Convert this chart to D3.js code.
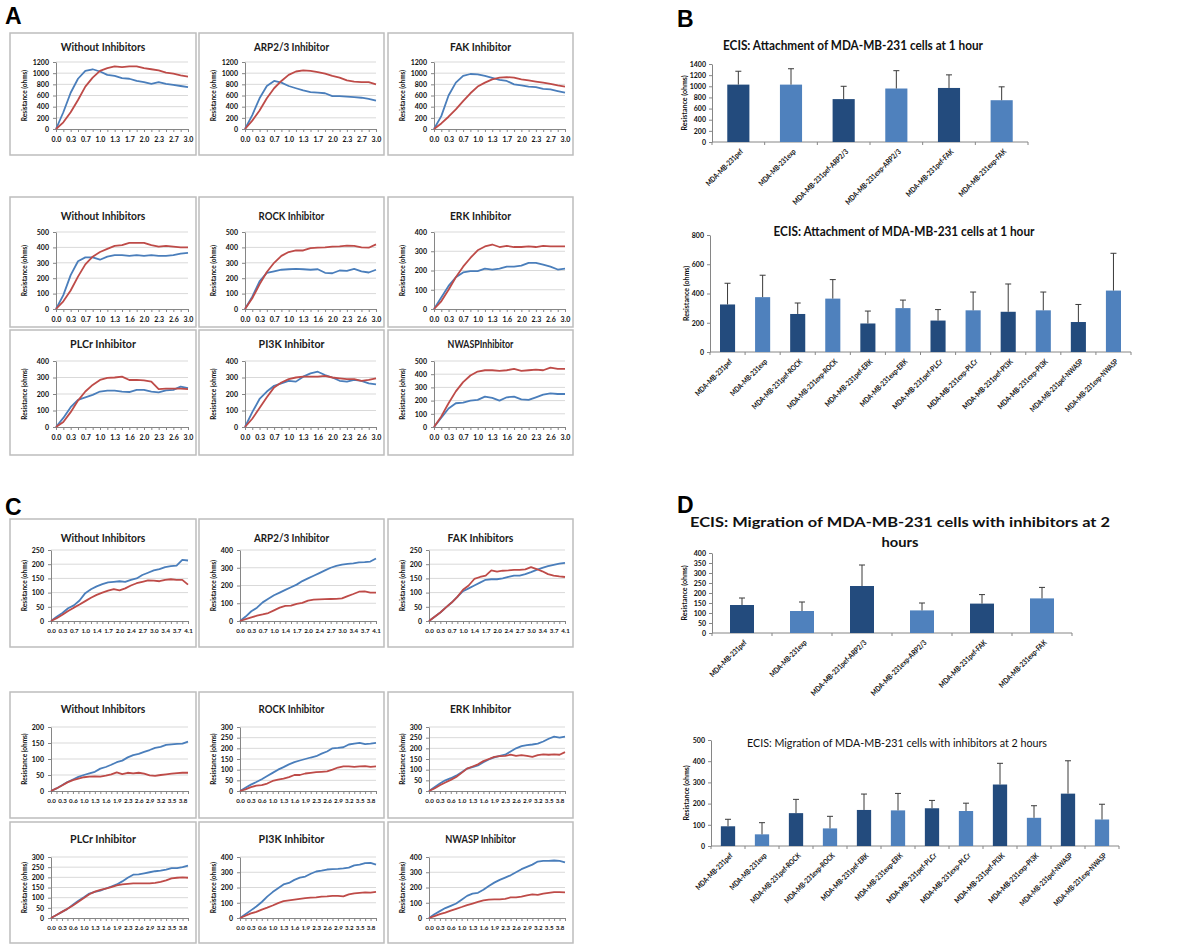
<!DOCTYPE html>
<html><head><meta charset="utf-8">
<script src="https://cdn.jsdelivr.net/npm/d3@7"></script>
<style>
body{margin:0;background:#fff}
svg{display:block}
text{font-family:Lato,"Open Sans",sans-serif}
</style>
</head><body>
<svg id="c" width="1200" height="945"></svg>
<script>
// ================= DATA =================
// x tick labels (hours)
const aTicks1  = ["0.0","0.3","0.7","1.0","1.3","1.7","2.0","2.3","2.7","3.0"];
const aTicks23 = ["0.0","0.3","0.7","1.0","1.3","1.6","2.0","2.3","2.6","3.0"];
const cTicks1  = ["0.0","0.3","0.7","1.0","1.4","1.7","2.0","2.4","2.7","3.0","3.4","3.7","4.1"];
const cTicks23 = ["0.0","0.3","0.6","1.0","1.3","1.6","1.9","2.3","2.6","2.9","3.2","3.5","3.8"];

// Panel A (attachment) line charts
const aTitles = ["Without Inhibitors","ARP2/3 Inhibitor","FAK Inhibitor","Without Inhibitors","ROCK Inhibitor","ERK Inhibitor","PLCr Inhibitor","PI3K Inhibitor","NWASPInhibitor"];
const aYMax  = [1200,1200,1200,500,500,400,400,400,500];
const aYStep = [200,200,200,100,100,100,100,100,100];
const aBlue1 = [0,300,650,900,1040,1070,1030,970,950,910,900,860,840,810,840,810,790,770,750];
const aRed1  = [0,120,300,520,760,920,1040,1090,1120,1110,1120,1120,1090,1070,1050,1010,990,960,940];
const aBlue2 = [0,250,550,770,860,830,770,730,690,660,650,640,590,590,580,570,560,540,510];
const aRed2  = [0,150,330,550,730,860,970,1030,1050,1040,1020,990,950,920,870,850,840,840,800];
const aBlue3 = [0,230,600,830,950,985,980,950,915,880,860,800,780,760,750,720,710,680,650];
const aRed3  = [0,100,220,350,500,640,760,830,890,920,930,920,890,870,850,830,810,780,760];
const aBlue4 = [0,90,220,310,335,335,320,340,350,350,345,350,345,350,345,345,350,360,365];
const aRed4  = [0,50,120,210,290,340,370,390,410,415,430,430,430,415,405,410,405,400,400];
const aBlue5 = [0,80,180,235,245,255,258,260,258,255,258,235,232,250,248,260,245,237,255];
const aRed5  = [0,70,160,240,300,345,370,380,380,395,398,400,405,407,412,410,400,398,420];
const aBlue6 = [0,60,120,165,190,197,197,210,205,210,220,220,225,240,240,230,220,205,210];
const aRed6  = [0,40,100,165,220,265,305,325,335,322,328,322,322,325,322,328,325,325,325];
const aBlue7 = [0,55,120,165,180,195,215,220,220,215,212,225,225,215,210,222,225,245,235];
const aRed7  = [0,30,90,160,215,255,285,298,300,305,285,285,283,275,230,232,233,232,230];
const aBlue8 = [0,90,170,215,250,265,280,275,305,325,335,315,300,280,275,285,280,265,258];
const aRed8  = [0,50,115,180,240,270,290,300,305,305,305,310,300,295,290,290,280,285,295];
const aBlue9 = [0,70,140,180,185,200,205,230,220,200,225,230,210,205,225,245,255,250,250];
const aRed9  = [0,80,180,270,340,390,420,430,430,425,430,440,425,430,435,430,450,440,440];

// Panel C (migration) line charts
const cTitles = ["Without Inhibitors","ARP2/3 Inhibitor","FAK Inhibitors","Without Inhibitors","ROCK Inhibitor","ERK Inhibitor","PLCr Inhibitor","PI3K Inhibitor","NWASP Inhibitor"];
const cYMax  = [250,400,250,200,300,300,300,400,400];
const cYStep = [50,100,50,50,50,50,50,100,100];
const cBlue1 = [0,15,28,45,55,72,98,112,122,130,136,138,140,138,145,150,162,170,178,183,190,193,195,215,213];
const cRed1  = [0,10,22,35,47,58,70,82,92,100,107,112,108,115,125,133,138,143,142,140,145,147,145,145,128];
const cBlue2 = [0,25,55,75,105,125,145,160,175,190,205,225,240,255,270,285,300,310,318,322,325,330,332,335,352];
const cRed2  = [0,10,20,30,37,45,60,75,85,87,97,102,115,120,122,123,124,125,127,140,152,165,167,160,160];
const cBlue3 = [0,15,30,48,65,85,105,115,125,135,145,147,147,150,155,160,160,165,172,180,187,193,198,202,205];
const cRed3  = [0,15,30,48,65,85,110,125,148,155,160,178,174,177,178,180,180,182,190,183,175,165,160,157,155];
const cBlue4 = [0,8,18,28,36,44,50,55,60,70,75,82,90,95,105,112,116,122,128,135,138,144,146,147,148,154];
const cRed4  = [0,8,17,27,34,39,43,45,46,45,48,52,58,53,57,55,57,54,49,47,50,52,54,56,57,57];
const cBlue5 = [0,15,30,42,55,70,85,100,112,125,135,143,150,157,163,175,185,200,202,205,218,222,226,220,222,226];
const cRed5  = [0,8,18,25,28,35,47,53,58,65,75,75,82,85,88,90,92,100,110,115,115,113,115,117,113,115];
const cBlue6 = [0,18,35,50,60,72,88,105,112,120,135,148,158,165,170,185,200,210,215,218,222,232,245,255,250,255];
const cRed6  = [0,12,27,40,52,66,85,105,115,125,140,150,160,163,165,170,165,168,165,160,168,172,170,172,170,182];
const cBlue7 = [0,15,30,45,65,85,102,120,128,135,145,155,165,180,198,213,215,220,225,230,233,238,245,245,250,257];
const cRed7  = [0,15,30,45,62,80,98,117,130,138,145,152,160,165,168,170,170,170,170,173,178,185,195,198,200,198];
const cBlue8 = [0,25,50,75,105,140,170,195,220,230,250,265,272,290,305,310,318,320,322,325,330,345,350,360,362,350];
const cRed8  = [0,15,30,40,55,68,82,98,110,115,120,125,130,133,135,140,142,145,145,142,155,162,165,168,167,172];
const cBlue9 = [0,25,45,65,80,95,120,145,160,165,185,210,232,250,265,280,300,320,335,350,370,375,375,377,375,365];
const cRed9  = [0,12,25,35,48,60,72,85,95,105,115,120,122,122,125,135,135,140,148,155,152,160,165,170,170,168];

// Bar charts
const bTopLabels = ["MDA-MB-231pef","MDA-MB-231exp","MDA-MB-231pef-ARP2/3","MDA-MB-231exp-ARP2/3","MDA-MB-231pef-FAK","MDA-MB-231exp-FAK"];
const bTopValues = [1030,1030,770,960,970,750];
const bTopErrors = [240,285,230,320,235,240];
const bBotLabels = ["MDA-MB-231pef","MDA-MB-231exp","MDA-MB-231pef-ROCK","MDA-MB-231exp-ROCK","MDA-MB-231pef-ERK","MDA-MB-231exp-ERK","MDA-MB-231pef-PLCr","MDA-MB-231exp-PLCr","MDA-MB-231pef-PI3K","MDA-MB-231exp-PI3K","MDA-MB-231pef-NWASP","MDA-MB-231exp-NWASP"];
const bBotValues = [325,375,260,365,195,300,215,285,275,285,205,420];
const bBotErrors = [145,150,75,130,85,55,75,125,190,125,120,255];
const dTopLabels = ["MDA-MB-231pef","MDA-MB-231exp","MDA-MB-231pef-ARP2/3","MDA-MB-231exp-ARP2/3","MDA-MB-231pef-FAK","MDA-MB-231exp-FAK"];
const dTopValues = [140,110,235,113,147,173];
const dTopErrors = [35,45,105,37,45,55];
const dBotLabels = ["MDA-MB-231pef","MDA-MB-231exp","MDA-MB-231pef-ROCK","MDA-MB-231exp-ROCK","MDA-MB-231pef-ERK","MDA-MB-231exp-ERK","MDA-MB-231pef-PLCr","MDA-MB-231exp-PLCr","MDA-MB-231pef-PI3K","MDA-MB-231exp-PI3K","MDA-MB-231pef-NWASP","MDA-MB-231exp-NWASP"];
const dBotValues = [93,55,155,83,170,168,178,165,290,133,247,125];
const dBotErrors = [33,55,65,57,75,80,37,37,100,57,155,72];

// ================= DRAWING =================
const svg = d3.select("#c");
const BLUE = "#4a7ebb", RED = "#be4b48", DARK = "#234b7d", LIGHT = "#4f81bd";
const AXIS = "#868686", GRID = "#d9d9d9";
const fmt = d3.format("d");

function styleAxis(g, fs) {
  g.select(".domain").attr("stroke", AXIS);
  g.selectAll(".tick line").attr("stroke", AXIS);
  g.selectAll(".tick text").attr("fill", "#111").style("font-size", fs + "px").style("font-weight", "bold").style("font-family", "Lato, sans-serif");
}

function lineChart(box, title, blue, red, yMax, yStep, ticks, pl, tickFs) {
  const g = svg.append("g");
  g.append("rect").attr("x", box.x).attr("y", box.y).attr("width", box.w).attr("height", box.h)
    .attr("fill", "#fff").attr("stroke", "#bdbdbd").attr("stroke-width", 1.5);
  const left = box.x + pl, right = box.x + box.w - 8;
  const n = blue.length;
  const x = d3.scaleLinear().domain([0, n - 1]).range([left, right]);
  const y = d3.scaleLinear().domain([0, yMax]).range([box.pb, box.pt]);
  const yt = d3.range(0, yMax + 1e-9, yStep);
  g.selectAll("line.grid").data(yt.slice(1)).join("line").attr("class", "grid")
    .attr("x1", left).attr("x2", right).attr("y1", d => y(d)).attr("y2", d => y(d))
    .attr("stroke", GRID).attr("stroke-width", 1);
  const ya = g.append("g").attr("transform", `translate(${left},0)`)
    .call(d3.axisLeft(y).tickValues(yt).tickFormat(fmt).tickSize(3).tickSizeOuter(0).tickPadding(4));
  styleAxis(ya, 7);
  const xa = g.append("g").attr("transform", `translate(0,${box.pb})`)
    .call(d3.axisBottom(x).tickValues(d3.range(n)).tickSize(3).tickSizeOuter(0).tickPadding(5)
      .tickFormat(d => (d % 2 === 0 && ticks[d / 2] !== undefined) ? ticks[d / 2] : ""));
  styleAxis(xa, tickFs);
  g.append("text").attr("x", box.x + box.w / 2).attr("y", box.ty).attr("text-anchor", "middle")
    .attr("dominant-baseline", "central").style("font-size", "11px").style("font-weight", "bold")
    .attr("fill", "#1a1a1a").attr("textLength", title.length * 4.7).attr("lengthAdjust", "spacingAndGlyphs").text(title);
  g.append("text").attr("transform", `translate(${box.x + 14},${(box.pt + box.pb) / 2}) rotate(-90)`)
    .attr("text-anchor", "middle").attr("dominant-baseline", "central")
    .style("font-size", "6.5px").style("font-weight", "bold").attr("fill", "#111").text("Resistance (ohms)");
  const line = d3.line().x((d, i) => x(i)).y(d => y(d));
  g.append("path").datum(blue).attr("d", line).attr("fill", "none").attr("stroke", BLUE).attr("stroke-width", 1.8).attr("stroke-linejoin", "round");
  g.append("path").datum(red).attr("d", line).attr("fill", "none").attr("stroke", RED).attr("stroke-width", 1.8).attr("stroke-linejoin", "round");
}

const colX = [10, 199, 388];
const colW = [186, 185, 185];
const aRows = [
  {y: 33, h: 122, ty: 46, pt: 62, pb: 129},
  {y: 197, h: 130, ty: 215, pt: 232, pb: 309},
  {y: 330, h: 125, ty: 343, pt: 361, pb: 427}
];
const cRows = [
  {y: 519, h: 128, ty: 537, pt: 550, pb: 621},
  {y: 692, h: 126, ty: 708, pt: 727, pb: 791},
  {y: 822, h: 121, ty: 838, pt: 857, pb: 918}
];
const aBlue = [aBlue1,aBlue2,aBlue3,aBlue4,aBlue5,aBlue6,aBlue7,aBlue8,aBlue9];
const aRed  = [aRed1,aRed2,aRed3,aRed4,aRed5,aRed6,aRed7,aRed8,aRed9];
const cBlue = [cBlue1,cBlue2,cBlue3,cBlue4,cBlue5,cBlue6,cBlue7,cBlue8,cBlue9];
const cRed  = [cRed1,cRed2,cRed3,cRed4,cRed5,cRed6,cRed7,cRed8,cRed9];

for (let k = 0; k < 9; k++) {
  const r = Math.floor(k / 3), c = k % 3;
  const ra = aRows[r];
  lineChart({x: colX[c], y: ra.y, w: colW[c], h: ra.h, ty: ra.ty, pt: ra.pt, pb: ra.pb},
    aTitles[k], aBlue[k], aRed[k], aYMax[k], aYStep[k], r === 0 ? aTicks1 : aTicks23, 46, 7);
  const rc = cRows[r];
  lineChart({x: colX[c], y: rc.y, w: colW[c], h: rc.h, ty: rc.ty, pt: rc.pt, pb: rc.pb},
    cTitles[k], cBlue[k], cRed[k], cYMax[k], cYStep[k], r === 0 ? cTicks1 : cTicks23, 41, 6.2);
}

function barChart(o) {
  const g = svg.append("g");
  const n = o.labels.length;
  const x = d3.scaleBand().domain(d3.range(n)).range([o.left, o.right]).paddingInner(o.pad).paddingOuter(o.pad / 2);
  const y = d3.scaleLinear().domain([0, o.yMax]).range([o.bottom, o.top]);
  const ya = g.append("g").attr("transform", `translate(${o.left},0)`)
    .call(d3.axisLeft(y).tickValues(d3.range(0, o.yMax + 1e-9, o.yStep)).tickFormat(fmt).tickSize(3).tickSizeOuter(0).tickPadding(3));
  styleAxis(ya, o.tickFs);
  const step = (o.right - o.left) / n;
  g.append("line").attr("x1", o.left).attr("x2", o.right).attr("y1", o.bottom).attr("y2", o.bottom).attr("stroke", AXIS);
  g.selectAll("line.bt").data(d3.range(n + 1)).join("line").attr("class", "bt")
    .attr("x1", i => o.left + i * step).attr("x2", i => o.left + i * step)
    .attr("y1", o.bottom).attr("y2", o.bottom + 3).attr("stroke", AXIS);
  g.selectAll("rect.bar").data(o.values).join("rect").attr("class", "bar")
    .attr("x", (d, i) => x(i)).attr("width", x.bandwidth())
    .attr("y", d => y(d)).attr("height", d => o.bottom - y(d))
    .attr("fill", (d, i) => i % 2 === 0 ? DARK : LIGHT);
  const cap = 3;
  o.values.forEach((v, i) => {
    const cx = x(i) + x.bandwidth() / 2;
    g.append("line").attr("x1", cx).attr("x2", cx).attr("y1", y(v)).attr("y2", y(v + o.errors[i])).attr("stroke", "#3a3a3a").attr("stroke-width", 1);
    g.append("line").attr("x1", cx - cap).attr("x2", cx + cap).attr("y1", y(v + o.errors[i])).attr("y2", y(v + o.errors[i])).attr("stroke", "#3a3a3a").attr("stroke-width", 1);
    g.append("text").attr("transform", `translate(${cx + 3},${o.bottom + 8}) rotate(-45)`)
      .attr("text-anchor", "end").attr("dominant-baseline", "central")
      .style("font-size", "7.6px").style("font-weight", "bold").attr("fill", "#111")
      .attr("textLength", o.labels[i].length * 3.75).attr("lengthAdjust", "spacingAndGlyphs").text(o.labels[i]);
  });
  o.title.forEach((t, j) => {
    g.append("text").attr("x", o.titleX).attr("y", o.titleY + j * 20).attr("text-anchor", "middle")
      .attr("dominant-baseline", "central").style("font-size", o.titleFs + "px").attr("fill", "#111")
      .style("font-weight", o.titleBold ? "bold" : "normal")
      .attr("textLength", o.titleW[j]).attr("lengthAdjust", "spacingAndGlyphs").text(t);
  });
  g.append("text").attr("transform", `translate(${o.yTitleX},${(o.top + o.bottom) / 2}) rotate(-90)`)
    .attr("text-anchor", "middle").attr("dominant-baseline", "central")
    .style("font-size", "7px").style("font-weight", "bold").attr("fill", "#111").text("Resistance (ohms)");
}

barChart({left: 712, right: 1028, top: 64, bottom: 142, labels: bTopLabels, values: bTopValues, errors: bTopErrors,
  yMax: 1400, yStep: 200, pad: 0.58, tickFs: 7, titleBold: true,
  title: ["ECIS: Attachment of MDA-MB-231 cells at 1 hour"], titleX: 853, titleY: 45, titleW: [260], titleFs: 13.5, yTitleX: 684});
barChart({left: 710, right: 1131, top: 235, bottom: 352, labels: bBotLabels, values: bBotValues, errors: bBotErrors,
  yMax: 800, yStep: 200, pad: 0.57, tickFs: 7, titleBold: true,
  title: ["ECIS: Attachment of MDA-MB-231 cells at 1 hour"], titleX: 904, titleY: 231, titleW: [261], titleFs: 13.5, yTitleX: 686});
barChart({left: 712, right: 1072, top: 553, bottom: 633, labels: dTopLabels, values: dTopValues, errors: dTopErrors,
  yMax: 400, yStep: 50, pad: 0.6, tickFs: 7, titleBold: true,
  title: ["ECIS: Migration of MDA-MB-231 cells with inhibitors at 2", "hours"], titleX: 900, titleY: 521, titleW: [420, 37], titleFs: 14, yTitleX: 684});
barChart({left: 711, right: 1119, top: 740, bottom: 846, labels: dBotLabels, values: dBotValues, errors: dBotErrors,
  yMax: 500, yStep: 100, pad: 0.58, tickFs: 7, titleBold: false,
  title: ["ECIS: Migration of MDA-MB-231 cells with inhibitors at 2 hours"], titleX: 897, titleY: 742, titleW: [300], titleFs: 12, yTitleX: 686});

// panel letters
[["A", 5, 24], ["B", 677, 27], ["C", 5, 515], ["D", 677, 513]].forEach(([t, x, y]) => {
  svg.append("text").attr("x", x).attr("y", y).style("font-family", "'Liberation Sans', Arial, sans-serif")
    .style("font-size", "23px").style("font-weight", "bold").attr("fill", "#000").text(t);
});
</script>
</body></html>
